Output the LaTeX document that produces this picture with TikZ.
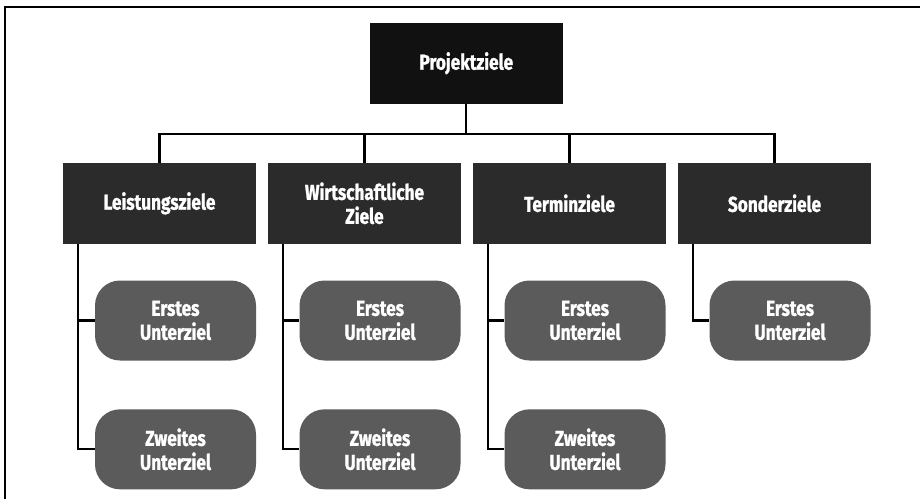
\documentclass[tikz,border=0pt]{standalone}
\usepackage{fontspec}
\setmainfont{Fira Sans}[FakeStretch=0.8, BoldFeatures={FakeBold=1.2}]
\usetikzlibrary{positioning, calc}
\definecolor{rootblk}{HTML}{111111}
\definecolor{goalgray}{HTML}{2B2B2B}
\definecolor{subgray}{HTML}{5B5B5B}

\tikzset{
  topbox/.style={fill=rootblk, text=white, minimum width=193pt, minimum height=81pt,
    inner sep=0pt, align=center, font=\bfseries\fontsize{21.5}{24}\selectfont},
  goalbox/.style={topbox, fill=goalgray},
  subbox/.style={fill=subgray, text=white, rounded corners=25pt, minimum width=161pt,
    minimum height=80pt, inner sep=0pt, align=center, font=\bfseries\fontsize{21.5}{24}\selectfont},
  link/.style={draw=black, line width=2.2pt}
}

\begin{document}
\begin{tikzpicture}[x=1pt, y=1pt]

\useasboundingbox (0,0) rectangle (920,-499);

% Frame (top and left edge only)
\draw[line width=2pt] (5,-499) -- (5,-7) -- (920,-7);

% Top goal
\node[topbox] (root) at (466.3,-63.3) {Projektziele};

% Goal categories
\node[goalbox] (g1) at (159.5,-203.3) {Leistungsziele};
\node[goalbox] (g2) at (364.5,-203.3) {Wirtschaftliche\\Ziele};
\node[goalbox] (g3) at (569.5,-203.3) {Terminziele};
\node[goalbox] (g4) at (774.5,-203.3) {Sonderziele};

% Sub goals
\node[subbox] (s1a) at (175.5,-320.5) {Erstes\\Unterziel};
\node[subbox] (s1b) at (175.5,-449.3) {Zweites\\Unterziel};
\node[subbox] (s2a) at (380,-320.5) {Erstes\\Unterziel};
\node[subbox] (s2b) at (380,-449.3) {Zweites\\Unterziel};
\node[subbox] (s3a) at (585,-320.5) {Erstes\\Unterziel};
\node[subbox] (s3b) at (585,-449.3) {Zweites\\Unterziel};
\node[subbox] (s4a) at (790,-320.5) {Erstes\\Unterziel};

% Bus from the top goal
\path (root.south) ++(0,-29.7) coordinate (bus);
\draw[link] (root.south) -- (bus);
\draw[link] (g1.north) |- (bus) -| (g4.north);
\draw[link] (g2.north) -- (g2.north |- bus);
\draw[link] (g3.north) -- (g3.north |- bus);

% Spines down to the sub goals
\foreach \g in {1,2,3,4} {
  \coordinate (sp\g) at ([xshift=15.5pt]g\g.south west);
}
\draw[link] (sp1) |- (s1a.west);
\draw[link] (sp1) |- (s1b.west);
\draw[link] (sp2) |- (s2a.west);
\draw[link] (sp2) |- (s2b.west);
\draw[link] (sp3) |- (s3a.west);
\draw[link] (sp3) |- (s3b.west);
\draw[link] (sp4) |- (s4a.west);

\end{tikzpicture}
\end{document}
